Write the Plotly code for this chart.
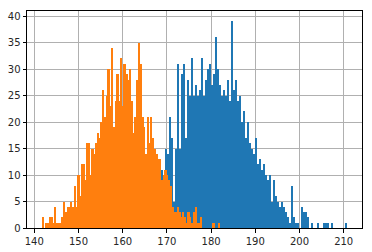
import plotly.graph_objects as go

# Orange histogram: 100 bins starting at 141.8, width 0.402
orange_start = 141.8
orange_width = 0.402
orange_counts = [
    2, 0, 1, 1, 2, 2, 1, 4, 1, 1,
    1, 2, 5, 3, 4, 4, 5, 4, 8, 4,
    10, 6, 12, 12, 9, 16, 16, 10, 15, 14,
    16, 18, 17, 20, 26, 21, 25, 30, 23, 34,
    19, 24, 29, 24, 32, 23, 31, 29, 28, 30,
    24, 18, 21, 28, 35, 31, 21, 19, 14, 21,
    16, 21, 17, 15, 14, 13, 13, 9, 10, 11,
    10, 9, 8, 4, 3, 3, 4, 3, 2, 3,
    2, 1, 3, 2, 1, 3, 4, 1, 1, 2,
    0, 0, 0, 0, 0, 0, 1, 0, 0, 1,
]

# Blue histogram: 100 bins starting at 165.4, width 0.453
blue_start = 165.4
blue_width = 0.453
blue_counts = [
    1, 0, 2, 3, 2, 5, 8, 11, 9, 15,
    14, 21, 17, 5, 15, 31, 15, 29, 31, 17,
    28, 25, 32, 25, 27, 25, 26, 32, 25, 28,
    30, 31, 27, 29, 36, 30, 27, 25, 26, 25,
    28, 24, 39, 26, 28, 24, 25, 20, 22, 17,
    20, 16, 15, 14, 17, 12, 13, 11, 12, 10,
    9, 10, 5, 9, 6, 5, 4, 5, 4, 3,
    2, 1, 8, 2, 1, 1, 0, 4, 3, 3,
    2, 0, 1, 0, 0, 1, 0, 0, 1, 1,
    1, 0, 1, 0, 0, 0, 0, 0, 0, 1,
]

x_ticks = [140, 150, 160, 170, 180, 190, 200, 210]
y_ticks = [0, 5, 10, 15, 20, 25, 30, 35, 40]

blue_x = [blue_start + blue_width * (i + 0.5) for i in range(len(blue_counts))]
orange_x = [orange_start + orange_width * (i + 0.5) for i in range(len(orange_counts))]

fig = go.Figure()
fig.add_trace(go.Bar(x=blue_x, y=blue_counts, width=[blue_width] * len(blue_counts),
                     marker=dict(color="#1f77b4", line=dict(width=0)), opacity=1))
fig.add_trace(go.Bar(x=orange_x, y=orange_counts, width=[orange_width] * len(orange_counts),
                     marker=dict(color="#ff7f0e", line=dict(width=0)), opacity=1))

lo = orange_start
hi = blue_start + blue_width * len(blue_counts)
pad = 0.05 * (hi - lo)
ymax = max(max(blue_counts), max(orange_counts)) * 1.05

axis_common = dict(showline=True, linecolor="#000000", linewidth=1, mirror=True,
                   ticks="outside", ticklen=3.5, tickwidth=0.8, tickcolor="#000000",
                   showgrid=True, gridcolor="#b0b0b0", gridwidth=0.8, zeroline=False,
                   automargin=False,
                   tickfont=dict(family="DejaVu Sans", size=10, color="#262626"))

fig.update_layout(
    width=372, height=252,
    margin=dict(l=27, r=10, t=11, b=24),
    paper_bgcolor="white", plot_bgcolor="white",
    barmode="overlay", bargap=0, showlegend=False,
    xaxis=dict(range=[lo - pad, hi + pad], tickvals=x_ticks, **axis_common),
    yaxis=dict(range=[0, ymax], tickvals=y_ticks, **axis_common),
)

fig.write_html("out.html")
